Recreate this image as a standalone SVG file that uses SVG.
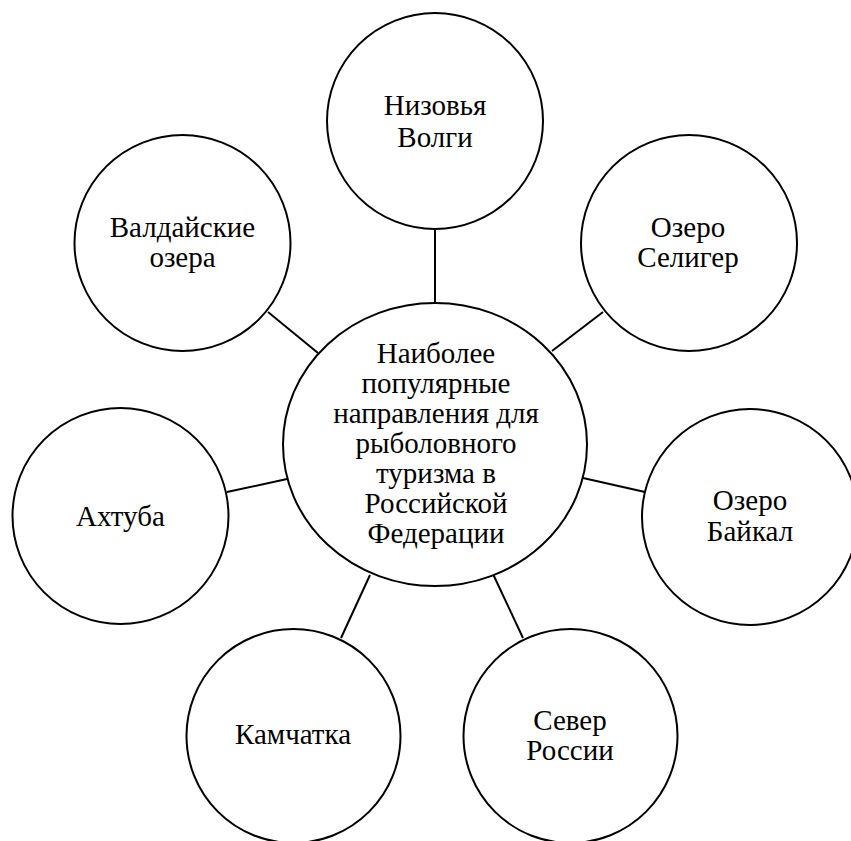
<svg xmlns="http://www.w3.org/2000/svg" width="851" height="841" viewBox="0 0 851 841">
<rect width="851" height="841" fill="#fff"/>
<g id="connectors" stroke="#000" stroke-width="2">
<line x1="435" y1="229" x2="435" y2="303"/>
<line x1="268" y1="312" x2="318" y2="353"/>
<line x1="603" y1="312" x2="552" y2="351"/>
<line x1="227" y1="492" x2="287" y2="479"/>
<line x1="583" y1="478" x2="645" y2="492"/>
<line x1="370" y1="575" x2="341" y2="638"/>
<line x1="493" y1="574" x2="523" y2="638"/>
</g>
<g id="center">
<ellipse fill="#fff" stroke="#000" stroke-width="2" cx="435" cy="444.5" rx="152" ry="141.5"/>
<text font-family="Liberation Serif" font-size="29" text-anchor="middle" x="436" y="363">Наиболее</text>
<text font-family="Liberation Serif" font-size="29" text-anchor="middle" x="436" y="393">популярные</text>
<text font-family="Liberation Serif" font-size="29" text-anchor="middle" x="436" y="423">направления для</text>
<text font-family="Liberation Serif" font-size="29" text-anchor="middle" x="436" y="453">рыболовного</text>
<text font-family="Liberation Serif" font-size="29" text-anchor="middle" x="436" y="483">туризма в</text>
<text font-family="Liberation Serif" font-size="29" text-anchor="middle" x="436" y="513">Российской</text>
<text font-family="Liberation Serif" font-size="29" text-anchor="middle" x="436" y="543">Федерации</text>
</g>
<g id="n-volga">
<circle fill="#fff" stroke="#000" stroke-width="2" cx="435" cy="121" r="108"/>
<text font-family="Liberation Serif" font-size="29" text-anchor="middle" x="435" y="115">Низовья</text>
<text font-family="Liberation Serif" font-size="29" text-anchor="middle" x="435" y="147">Волги</text>
</g>
<g id="n-valdai">
<circle fill="#fff" stroke="#000" stroke-width="2" cx="182.5" cy="243" r="108"/>
<text font-family="Liberation Serif" font-size="29" text-anchor="middle" x="182.5" y="237">Валдайские</text>
<text font-family="Liberation Serif" font-size="29" text-anchor="middle" x="182.5" y="267">озера</text>
</g>
<g id="n-seliger">
<circle fill="#fff" stroke="#000" stroke-width="2" cx="689" cy="243" r="108"/>
<text font-family="Liberation Serif" font-size="29" text-anchor="middle" x="688" y="237">Озеро</text>
<text font-family="Liberation Serif" font-size="29" text-anchor="middle" x="688" y="267">Селигер</text>
</g>
<g id="n-akhtuba">
<circle fill="#fff" stroke="#000" stroke-width="2" cx="120.5" cy="516" r="108"/>
<text font-family="Liberation Serif" font-size="29" text-anchor="middle" x="120.5" y="526">Ахтуба</text>
</g>
<g id="n-baikal">
<circle fill="#fff" stroke="#000" stroke-width="2" cx="750" cy="517" r="108"/>
<text font-family="Liberation Serif" font-size="29" text-anchor="middle" x="750" y="510">Озеро</text>
<text font-family="Liberation Serif" font-size="29" text-anchor="middle" x="750" y="541">Байкал</text>
</g>
<g id="n-kamchatka">
<circle fill="#fff" stroke="#000" stroke-width="2" cx="293.5" cy="736" r="107"/>
<text font-family="Liberation Serif" font-size="29" text-anchor="middle" x="293" y="744">Камчатка</text>
</g>
<g id="n-sever">
<circle fill="#fff" stroke="#000" stroke-width="2" cx="570.5" cy="736" r="107"/>
<text font-family="Liberation Serif" font-size="29" text-anchor="middle" x="570" y="730">Север</text>
<text font-family="Liberation Serif" font-size="29" text-anchor="middle" x="570" y="760">России</text>
</g>
</svg>
